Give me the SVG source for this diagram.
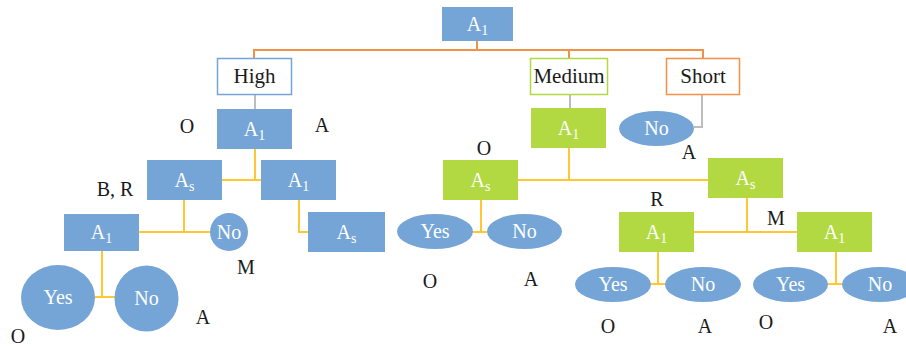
<svg xmlns="http://www.w3.org/2000/svg" width="906" height="349" viewBox="0 0 906 349" font-family="'Liberation Serif', 'DejaVu Serif', serif">
  <style>
    .lbl { font-size: 20px; fill: #1a1a1a; text-anchor: middle; }
    .in { font-size: 20px; fill: #ffffff; text-anchor: middle; }
    .sub { font-size: 14px; }
    .blue { fill: #74a5d6; }
    .green { fill: #b2d942; }
    .orange { fill: none; stroke: #f39147; stroke-width: 2; }
    .yellow { fill: none; stroke: #ffc833; stroke-width: 2; }
    .gray { fill: none; stroke: #bdbdbd; stroke-width: 2; }
  </style>

  <!-- connectors -->
  <g id="connectors">
    <polyline class="orange" points="477,41 477,50"/>
    <polyline class="orange" points="254,58 254,50 703,50 703,58"/>
    <polyline class="orange" points="569,50 569,58"/>
    <polyline class="gray" points="255,95 255,109"/>
    <polyline class="gray" points="570,95 570,108"/>
    <polyline class="gray" points="702,95 702,127 694,127"/>
    <!-- high branch -->
    <polyline class="yellow" points="255,149 255,180"/>
    <polyline class="yellow" points="222,180 261,180"/>
    <polyline class="yellow" points="184,200 184,232"/>
    <polyline class="yellow" points="139,232 210,232"/>
    <polyline class="yellow" points="299,200 299,232 308,232"/>
    <polyline class="yellow" points="102,251 102,297"/>
    <polyline class="yellow" points="95,297 115,297"/>
    <!-- medium branch -->
    <polyline class="yellow" points="569,148 569,180"/>
    <polyline class="yellow" points="518,180 708,180"/>
    <polyline class="yellow" points="481,200 481,232"/>
    <polyline class="yellow" points="473,232 487,232"/>
    <polyline class="yellow" points="747,198 747,232"/>
    <polyline class="yellow" points="694,232 797,232"/>
    <polyline class="yellow" points="658,252 658,284"/>
    <polyline class="yellow" points="651,284 665,284"/>
    <polyline class="yellow" points="836,252 836,284"/>
    <polyline class="yellow" points="828,284 842,284"/>
  </g>

  <!-- root -->
  <g id="root">
    <rect class="blue" x="442" y="7" width="71" height="34"/>
    <text class="in" x="477.5" y="31">A<tspan class="sub" dy="4">1</tspan></text>
  </g>

  <!-- categories -->
  <g id="high">
    <rect x="217.5" y="58.5" width="74" height="36" fill="#fff" stroke="#74a5d6" stroke-width="1.5"/>
    <text class="lbl" x="254.5" y="83" style="font-size:21px">High</text>
  </g>
  <g id="medium">
    <rect x="530.5" y="58.5" width="77" height="36" fill="#fff" stroke="#b2d942" stroke-width="1.5"/>
    <text class="lbl" x="569" y="83" style="font-size:21px">Medium</text>
  </g>
  <g id="short">
    <rect x="666.5" y="58.5" width="73" height="36" fill="#fff" stroke="#f39147" stroke-width="1.5"/>
    <text class="lbl" x="703" y="83" style="font-size:21px">Short</text>
  </g>

  <!-- high branch nodes -->
  <g id="h-a1">
    <rect class="blue" x="217" y="109" width="75" height="40"/>
    <text class="in" x="254.5" y="136">A<tspan class="sub" dy="4">1</tspan></text>
  </g>
  <g id="h-as">
    <rect class="blue" x="147" y="160" width="75" height="40"/>
    <text class="in" x="184.5" y="187">A<tspan class="sub" dy="4">s</tspan></text>
  </g>
  <g id="h-a1b">
    <rect class="blue" x="261" y="160" width="75" height="40"/>
    <text class="in" x="298.5" y="187">A<tspan class="sub" dy="4">1</tspan></text>
  </g>
  <g id="h-a1c">
    <rect class="blue" x="64" y="214" width="75" height="37"/>
    <text class="in" x="101.5" y="239">A<tspan class="sub" dy="4">1</tspan></text>
  </g>
  <g id="h-no1">
    <circle class="blue" cx="229" cy="232" r="19"/>
    <text class="in" x="229" y="239">No</text>
  </g>
  <g id="h-as2">
    <rect class="blue" x="308" y="212" width="77" height="40"/>
    <text class="in" x="346.5" y="239">A<tspan class="sub" dy="4">s</tspan></text>
  </g>
  <g id="h-yes">
    <ellipse class="blue" cx="58" cy="297.5" rx="37" ry="32.5"/>
    <text class="in" x="58" y="304">Yes</text>
  </g>
  <g id="h-no2">
    <ellipse class="blue" cx="146.5" cy="298.5" rx="32" ry="33"/>
    <text class="in" x="146.5" y="305">No</text>
  </g>

  <!-- medium branch nodes -->
  <g id="m-a1">
    <rect class="green" x="531" y="108" width="75" height="40"/>
    <text class="in" x="568.5" y="135">A<tspan class="sub" dy="4">1</tspan></text>
  </g>
  <g id="m-as">
    <rect class="green" x="443" y="160" width="75" height="40"/>
    <text class="in" x="480.5" y="187">A<tspan class="sub" dy="4">s</tspan></text>
  </g>
  <g id="m-as2">
    <rect class="green" x="708" y="158" width="75" height="40"/>
    <text class="in" x="745.5" y="185">A<tspan class="sub" dy="4">s</tspan></text>
  </g>
  <g id="m-yes">
    <ellipse class="blue" cx="435" cy="231.5" rx="38" ry="17.5"/>
    <text class="in" x="435" y="238">Yes</text>
  </g>
  <g id="m-no">
    <ellipse class="blue" cx="524.5" cy="231.5" rx="37.5" ry="17.5"/>
    <text class="in" x="524.5" y="238">No</text>
  </g>
  <g id="m-a1b">
    <rect class="green" x="619" y="212" width="75" height="40"/>
    <text class="in" x="656.5" y="239">A<tspan class="sub" dy="4">1</tspan></text>
  </g>
  <g id="m-a1c">
    <rect class="green" x="797" y="212" width="75" height="40"/>
    <text class="in" x="834.5" y="239">A<tspan class="sub" dy="4">1</tspan></text>
  </g>
  <g id="m-yes2">
    <ellipse class="blue" cx="613" cy="284.5" rx="38" ry="17.5"/>
    <text class="in" x="613" y="291">Yes</text>
  </g>
  <g id="m-no2">
    <ellipse class="blue" cx="703" cy="284.5" rx="38" ry="17.5"/>
    <text class="in" x="703" y="291">No</text>
  </g>
  <g id="m-yes3">
    <ellipse class="blue" cx="790.5" cy="284.5" rx="37.5" ry="17.5"/>
    <text class="in" x="790.5" y="291">Yes</text>
  </g>
  <g id="m-no3">
    <ellipse class="blue" cx="880" cy="284.5" rx="38" ry="17.5"/>
    <text class="in" x="880" y="291">No</text>
  </g>

  <!-- short branch node -->
  <g id="s-no">
    <ellipse class="blue" cx="656.5" cy="128.5" rx="37.5" ry="17.5"/>
    <text class="in" x="656.5" y="135">No</text>
  </g>

  <!-- edge labels -->
  <g id="labels">
    <text class="lbl" x="187" y="133">O</text>
    <text class="lbl" x="322" y="132">A</text>
    <text class="lbl" x="115" y="196">B, R</text>
    <text class="lbl" x="246" y="274">M</text>
    <text class="lbl" x="203" y="324">A</text>
    <text class="lbl" x="18" y="343">O</text>
    <text class="lbl" x="484" y="155">O</text>
    <text class="lbl" x="689" y="159">A</text>
    <text class="lbl" x="657" y="206">R</text>
    <text class="lbl" x="776" y="225">M</text>
    <text class="lbl" x="430" y="288">O</text>
    <text class="lbl" x="531" y="286">A</text>
    <text class="lbl" x="608" y="333">O</text>
    <text class="lbl" x="705" y="333">A</text>
    <text class="lbl" x="766" y="329">O</text>
    <text class="lbl" x="890" y="333">A</text>
  </g>
</svg>
